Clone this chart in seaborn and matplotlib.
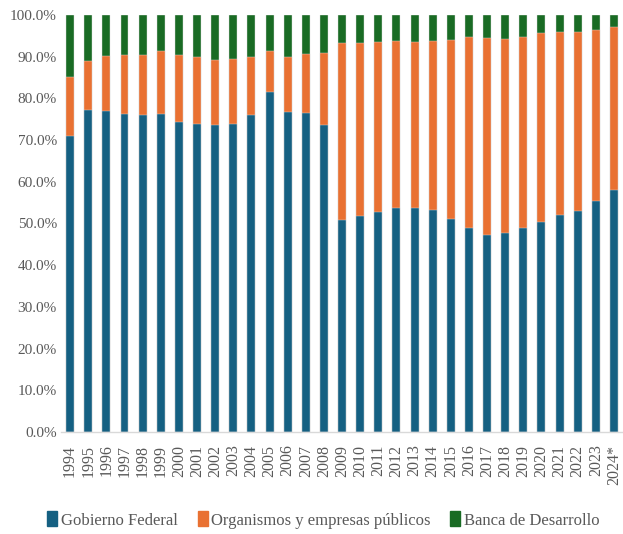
import matplotlib
matplotlib.use("Agg")
import matplotlib.pyplot as plt
import matplotlib.ticker as mtick
from matplotlib.patches import Patch
import pandas as pd
import seaborn as sns

years = ["1994", "1995", "1996", "1997", "1998", "1999", "2000", "2001", "2002",
         "2003", "2004", "2005", "2006", "2007", "2008", "2009", "2010", "2011",
         "2012", "2013", "2014", "2015", "2016", "2017", "2018", "2019", "2020",
         "2021", "2022", "2023", "2024*"]
gobierno = [71.0, 77.3, 77.0, 76.3, 76.1, 76.3, 74.4, 73.9, 73.5, 73.9, 75.9,
            81.6, 76.7, 76.5, 73.5, 50.8, 51.9, 52.8, 53.8, 53.8, 53.3, 51.1,
            48.8, 47.2, 47.6, 48.8, 50.4, 52.0, 53.1, 55.5, 58.0]
organismos = [14.1, 11.7, 13.2, 14.1, 14.3, 15.1, 16.0, 16.0, 15.7, 15.5, 14.0,
              9.8, 13.2, 14.1, 17.4, 42.5, 41.3, 40.8, 39.9, 39.7, 40.4, 42.9,
              45.8, 47.2, 46.7, 45.8, 45.2, 43.8, 42.9, 40.8, 39.0]
banca = [100 - g - o for g, o in zip(gobierno, organismos)]

df = pd.DataFrame({"year": years, "gob": gobierno, "org": organismos, "ban": banca})
df["top_org"] = df["gob"] + df["org"]
df["top_ban"] = df["top_org"] + df["ban"]

c_blue, c_orange, c_green = "#156082", "#E97132", "#196B24"

sns.set_style("white")
plt.rcParams["font.family"] = ["Liberation Serif", "DejaVu Serif"]

fig = plt.figure(figsize=(6.23, 5.34), dpi=100)
ax = fig.add_axes([0.098, 0.191, 0.902, 0.781])

kw = dict(x="year", width=0.44, edgecolor="#dddddd", linewidth=0.3, ax=ax)
sns.barplot(data=df, y="top_ban", color=c_green, saturation=1, **kw)
sns.barplot(data=df, y="top_org", color=c_orange, saturation=1, **kw)
sns.barplot(data=df, y="gob", color=c_blue, saturation=1, **kw)

ax.set_ylim(0, 100)
ax.set_xlim(-0.5, len(years) - 0.5)
ax.yaxis.set_major_locator(mtick.MultipleLocator(10))
ax.yaxis.set_major_formatter(mtick.FuncFormatter(lambda v, p: f"{v:.1f}%"))
ax.set_xlabel("")
ax.set_ylabel("")
ax.tick_params(axis="y", labelsize=11, colors="#595959", length=0, pad=3)
ax.tick_params(axis="x", labelsize=11.5, colors="#595959", length=0, rotation=90, pad=9)
for s in ["top", "right", "left"]:
    ax.spines[s].set_visible(False)
ax.spines["bottom"].set_color("#d9d9d9")
ax.spines["bottom"].set_linewidth(1.0)

handles = [Patch(color=c_blue, label="Gobierno Federal"),
           Patch(color=c_orange, label="Organismos y empresas públicos"),
           Patch(color=c_green, label="Banca de Desarrollo")]
leg = fig.legend(handles=handles, loc="lower center", bbox_to_anchor=(0.519, -0.018),
                 ncol=3, frameon=False, fontsize=12, handlelength=0.6,
                 handleheight=1.0, handletextpad=0.2, columnspacing=1.2)
for t in leg.get_texts():
    t.set_color("#595959")

fig.savefig("out.png", dpi=100)
